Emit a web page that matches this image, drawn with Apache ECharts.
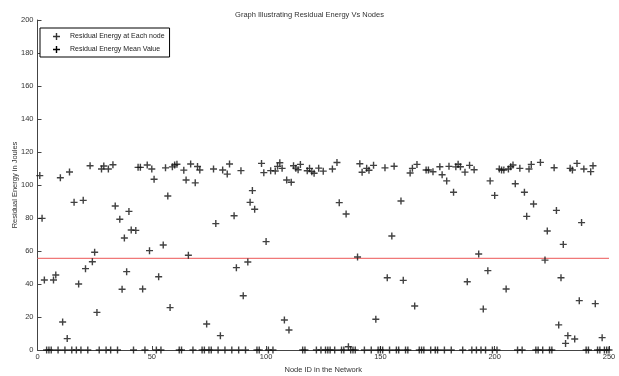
<!DOCTYPE html>
<html>
<head>
<meta charset="utf-8">
<script src="https://cdn.jsdelivr.net/npm/echarts@6/dist/echarts.min.js"></script>
<style>
    html, body { margin: 0; padding: 0; background: #fff; }
    #main { width: 619px; height: 376px; }
</style>
</head>
<body>
<div id="main"></div>
<script>
// residual energy of node 1..250
var energy = [
    105.7, 79.8, 42.4, 0, 0, 0, 42.4, 45.5, 0, 104.4,        // 1-10
    17, 0, 6.9, 107.9, 0, 89.5, 0, 40, 0, 90.7,              // 11-20
    49.3, 0, 111.7, 53.5, 59.2, 22.8, 0, 109.7, 111.5, 0,    // 21-30
    109.7, 0, 112.3, 87.3, 0, 79.2, 36.8, 67.9, 47.5, 84,    // 31-40
    72.7, 0, 72.5, 110.7, 110.7, 37, 0, 112.1, 60.2, 109.7,  // 41-50
    103.5, 0, 44.4, 0, 63.6, 110.4, 93.3, 25.7, 111, 112.1,  // 51-60
    112.6, 0, 0, 109, 103, 57.4, 112.7, 0, 101.3, 111.2,     // 61-70
    109.1, 0, 0, 15.8, 0, 0, 109.7, 76.6, 0, 8.7,            // 71-80
    109.1, 0, 106.6, 112.7, 0, 81.4, 49.9, 0, 108.7, 32.9,   // 81-90
    0, 53.3, 89.5, 96.6, 85.3, 0, 0, 113.1, 107.5, 65.7,     // 91-100
    0, 108.7, 0, 108.5, 111.3, 113.5, 110.1, 18.2, 103, 12.1,    // 101-110
    101.7, 111.7, 110.2, 109.2, 112.5, 0, 0, 108.6, 110.1, 108.1, // 111-120
    107.1, 0, 110.2, 0, 108.4, 0, 0, 0, 109.7, 0,            // 121-130
    113.6, 89.3, 0, 0, 82.4, 2, 0, 0, 0, 56.4,               // 131-140
    112.9, 107.7, 0, 110.1, 108.9, 0, 111.9, 18.6, 0, 0,     // 141-150
    0, 110.4, 43.8, 0, 69.1, 111.4, 0, 0, 90.3, 42.2,        // 151-160
    0, 0, 107.3, 110.1, 26.7, 112.5, 0, 0, 0, 109.1,         // 161-170
    109.1, 0, 108, 0, 0, 111.1, 106.2, 0, 102.5, 111.3,      // 171-180
    0, 95.6, 111, 112.6, 111.1, 0, 107.8, 41.4, 111.9, 0,    // 181-190
    109.2, 0, 58.2, 0, 24.8, 0, 48.1, 102.5, 0, 93.7,        // 191-200
    0, 109.7, 109.1, 109.1, 37, 109.7, 111.1, 112.1, 100.8, 0,   // 201-210
    110.1, 0, 95.6, 81, 109.7, 112.5, 88.5, 0, 0, 113.7,     // 211-220
    0, 54.5, 72.1, 0, 0, 110.5, 84.6, 15.2, 43.8, 64,        // 221-230
    4, 8.7, 110.1, 109.1, 6.7, 113.1, 29.9, 77.2, 109.7, 0,  // 231-240
    0, 108.1, 111.7, 28.1, 0, 0, 7.5, 0, 0, 0                // 241-250
];
var meanValue = 55.5;
var meanRange = [0, 250];
var seriesNames = ['Residual Energy at Each node', 'Residual Energy Mean Value'];

var plusIcon = 'path://M4,0H6V4H10V6H6V10H4V6H0V4H4Z';
var fontFam = '"Liberation Sans Narrow", "Liberation Sans", Arial, sans-serif';

var pointData = [];
for (var i = 0; i < energy.length; i++) {
    pointData.push([i + 1, energy[i]]);
}
var meanData = [];
for (var k = 0; k < meanRange.length; k++) {
    meanData.push([meanRange[k], meanValue]);
}

var myCharts = echarts.init(document.getElementById('main'));
var option = {
    animation: false,
    backgroundColor: '#fff',
    title: {
        text: 'Graph Illustrating Residual Energy Vs Nodes',
        left: 'center',
        top: 6,
        textStyle: {
            fontSize: 7.5,
            fontWeight: 'normal',
            color: '#333',
            fontFamily: fontFam
        }
    },
    legend: {
        orient: 'vertical',
        left: 40,
        top: 28,
        padding: [5, 5, 4, 13],
        itemGap: 6,
        itemWidth: 7,
        itemHeight: 7,
        borderColor: '#000',
        borderWidth: 1,
        borderRadius: 0,
        backgroundColor: '#fff',
        textStyle: {
            fontSize: 7,
            color: '#222',
            fontFamily: fontFam,
            padding: [0, 0, 0, 5]
        },
        data: [
            { name: seriesNames[0], icon: plusIcon, itemStyle: { color: '#000' } },
            { name: seriesNames[1], icon: plusIcon, itemStyle: { color: '#000' } }
        ]
    },
    grid: {
        left: 37.5,
        right: 10,
        top: 20,
        bottom: 26,
        outerBoundsMode: 'none'
    },
    xAxis: {
        type: 'value',
        min: 0,
        max: 250,
        interval: 50,
        name: 'Node ID in the Network',
        nameLocation: 'middle',
        nameGap: 14,
        nameTextStyle: { fontSize: 7.5, color: '#333', fontFamily: fontFam },
        axisLine: { lineStyle: { color: '#444', width: 1 } },
        axisTick: { inside: true, length: 4, lineStyle: { color: '#444' } },
        axisLabel: { fontSize: 7.5, color: '#333', margin: 3, fontFamily: fontFam },
        splitLine: { show: false }
    },
    yAxis: {
        type: 'value',
        min: 0,
        max: 200,
        interval: 20,
        name: 'Residual Energy in Joules',
        nameLocation: 'middle',
        nameGap: 19,
        nameMoveOverlap: false,
        nameTextStyle: { fontSize: 7.5, color: '#333', fontFamily: fontFam },
        axisLine: { show: true, lineStyle: { color: '#444', width: 1 } },
        axisTick: { show: true, inside: true, length: 4, lineStyle: { color: '#444' } },
        axisLabel: { fontSize: 7.5, color: '#333', margin: 4, fontFamily: fontFam },
        splitLine: { show: false }
    },
    series: [{
        name: seriesNames[0],
        type: 'scatter',
        symbol: plusIcon,
        symbolSize: 7,
        itemStyle: { color: '#111' },
        data: pointData,
        z: 3
    }, {
        name: seriesNames[1],
        type: 'line',
        symbol: 'none',
        lineStyle: { color: '#f07878', width: 1.2 },
        data: meanData,
        z: 2
    }]
};
myCharts.setOption(option);
</script>
</body>
</html>
